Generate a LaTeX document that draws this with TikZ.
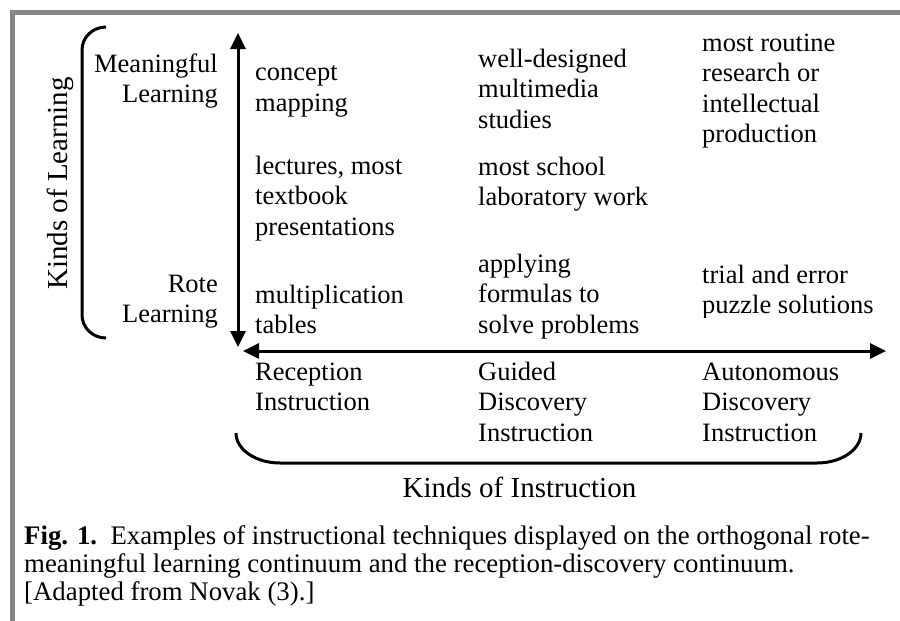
\documentclass[tikz,border=0pt]{standalone}
\usepackage{fontspec}
\setmainfont{Liberation Serif}
\usetikzlibrary{arrows.meta}
\definecolor{framegray}{HTML}{878787}
\begin{document}
\begin{tikzpicture}[x=1pt,y=-1pt,
  lbl/.style={font=\fontsize{26.5}{30.5}\selectfont, align=left, anchor=base west, inner sep=0pt},
  lblr/.style={font=\fontsize{26.5}{30.5}\selectfont, align=right, anchor=base east, inner sep=0pt},
  big/.style={font=\fontsize{29}{33}\selectfont, inner sep=0pt, anchor=base},
  capt/.style={font=\fontsize{26.8}{28}\selectfont, align=left, anchor=base west, inner sep=0pt},
  axis/.style={line width=3pt, {Triangle[length=16pt,width=15pt]}-{Triangle[length=16pt,width=15pt]}},
  bracket/.style={line width=3pt},
  framebar/.style={fill=framegray, draw=none}]
\useasboundingbox (0,0) rectangle (900,621);
% frame
\fill[framebar] (10,10) rectangle (900,15);
\fill[framebar] (10,10) rectangle (15,621);
% axes
\coordinate (vtop) at (238,33);
\coordinate (vbot) at (238,347);
\coordinate (hleft) at (243,351);
\coordinate (hright) at (886,351);
\draw[axis] (vbot) -- (vtop);
\draw[axis] (hleft) -- (hright);
% brackets
\coordinate (lbA) at (106,27);
\coordinate (lbB) at (106,338);
\draw[bracket] (lbA) arc[start angle=270, end angle=180, x radius=24, y radius=23]
  -- (82,315) arc[start angle=180, end angle=90, x radius=24, y radius=23];
\coordinate (bbA) at (236,433);
\coordinate (bbB) at (861,433);
\draw[bracket] (bbA) arc[start angle=180, end angle=90, x radius=44, y radius=30]
  -- (817,463) arc[start angle=90, end angle=0, x radius=44, y radius=30];
% axis labels (anchor = baseline of last line)
\node[big, rotate=90] (kl) at (67,183.5) {Kinds of Learning};
\node[big] (ki) at (519.5,497) {Kinds of Instruction};
\node[lblr] (ml) at (218,102.5) {Meaningful\\Learning};
\node[lblr] (rl) at (218,322.5) {Rote\\Learning};
% cells
\node[lbl] (c11) at (255,111) {concept\\mapping};
\node[lbl] (c21) at (255,235) {lectures, most\\textbook\\presentations};
\node[lbl] (c31) at (255,333.5) {multiplication\\tables};
\node[lbl] (c12) at (478,128) {well-designed\\multimedia\\studies};
\node[lbl] (c22) at (478,205.5) {most school\\laboratory work};
\node[lbl] (c32) at (478,333) {applying\\formulas to\\solve problems};
\node[lbl] (c13) at (702,142.5) {most routine\\research or\\intellectual\\production};
\begin{scope}
\clip (690,250) rectangle (895,317);
\node[lbl] (c33) at (702,313.5) {trial and error\\puzzle solutions};
\end{scope}
% instruction kinds
\node[lbl] (i1) at (255,410.5) {Reception\\Instruction};
\node[lbl] (i2) at (478,441) {Guided\\Discovery\\Instruction};
\node[lbl] (i3) at (702,441) {Autonomous\\Discovery\\Instruction};
% caption
\node[capt] (cap) at (24,600) {\textbf{Fig. 1.}\ \ Examples of instructional techniques displayed on the orthogonal rote-\\meaningful learning continuum and the reception-discovery continuum.\\{[}Adapted from Novak (3).]};
\end{tikzpicture}
\end{document}
